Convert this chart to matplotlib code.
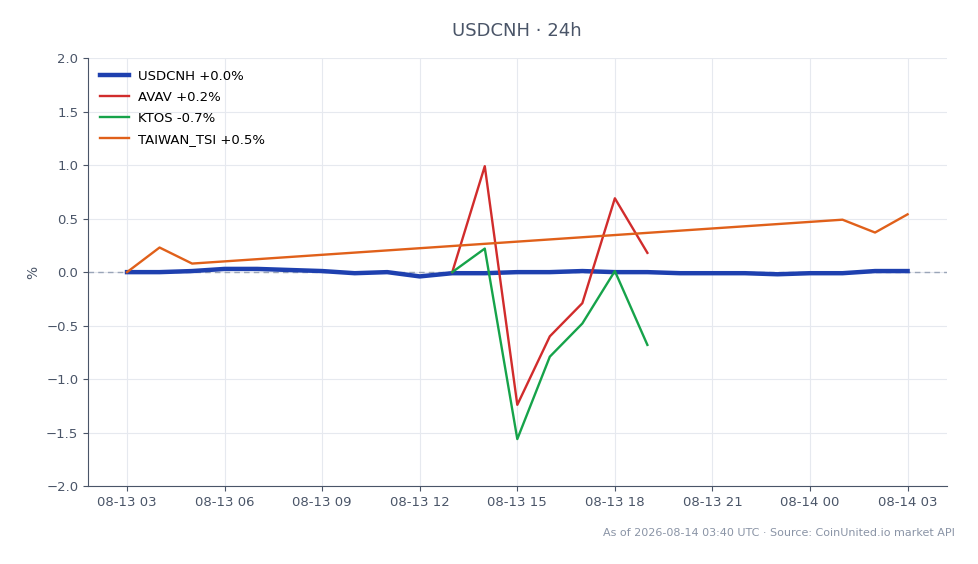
import numpy as np
import pandas as pd
import matplotlib
matplotlib.use("Agg")
import matplotlib.pyplot as plt
import matplotlib.dates as mdates

# ---------- data (hourly, % change vs. start) ----------
usdcnh_times = pd.date_range("2026-08-13 03:00", "2026-08-14 03:00", freq="h")
usdcnh_pct = [
    0.0, 0.0, 0.01, 0.03, 0.03, 0.02,      # 03-08
    0.01, -0.01, 0.0, -0.04, -0.01, -0.01,  # 09-14
    0.0, 0.0, 0.01, 0.0, 0.0, -0.01,        # 15-20
    -0.01, -0.01, -0.02, -0.01, -0.01,      # 21-01
    0.01, 0.01,                             # 02-03
]

avav_times = pd.to_datetime(["2026-08-13 13:00", "2026-08-13 14:00", "2026-08-13 15:00",
                             "2026-08-13 16:00", "2026-08-13 17:00", "2026-08-13 18:00",
                             "2026-08-13 19:00"])
avav_pct = [0.0, 0.99, -1.24, -0.60, -0.29, 0.69, 0.18]

ktos_times = avav_times
ktos_pct = [0.0, 0.22, -1.56, -0.79, -0.48, 0.01, -0.68]

tsi_times = pd.to_datetime(["2026-08-13 03:00", "2026-08-13 04:00", "2026-08-13 05:00",
                            "2026-08-14 01:00", "2026-08-14 02:00", "2026-08-14 03:00"])
tsi_pct = [0.0, 0.23, 0.08, 0.49, 0.37, 0.54]

series = [
    ("USDCNH +0.0%", usdcnh_times, usdcnh_pct, "#1e40af", 3.2),
    ("AVAV +0.2%", avav_times, avav_pct, "#d12c2c", 1.7),
    ("KTOS -0.7%", ktos_times, ktos_pct, "#16a34a", 1.7),
    ("TAIWAN_TSI +0.5%", tsi_times, tsi_pct, "#e0601a", 1.7),
]

TEXT = "#4a5568"

fig = plt.figure(figsize=(9.79, 5.64), dpi=100)
ax = fig.add_axes([0.0899, 0.138, 0.877, 0.759])

ax.axhline(0, color="#9aa5b8", lw=1.0, ls=(0, (4, 3)), zorder=1)
for label, t, v, c, lw in series:
    ax.plot(t, v, color=c, lw=lw, label=label, zorder=3)

ax.set_ylim(-2.0, 2.0)
ax.set_yticks(np.arange(-2.0, 2.01, 0.5))
ax.yaxis.set_major_formatter(plt.FuncFormatter(lambda y, _: f"{y:.1f}".replace("-", "\u2212")))
ax.xaxis.set_major_locator(mdates.HourLocator(byhour=range(0, 24, 3)))
ax.xaxis.set_major_formatter(mdates.DateFormatter("%m-%d %H"))
ax.set_ylabel("%", color=TEXT, fontsize=10)

ax.grid(True, color="#e6e9ef", lw=0.8)
ax.set_axisbelow(True)
for s in ("top", "right"):
    ax.spines[s].set_visible(False)
for s in ("left", "bottom"):
    ax.spines[s].set_color(TEXT)
ax.tick_params(colors=TEXT, labelsize=9.5)

ax.set_title("USDCNH \u00b7 24h", color=TEXT, fontsize=13, pad=16)
ax.legend(loc="upper left", frameon=False, fontsize=9.5, handlelength=2.2,
          labelspacing=0.6, handletextpad=0.7)

fig.text(0.975, 0.055, "As of 2026-08-14 03:40 UTC \u00b7 Source: CoinUnited.io market API",
         ha="right", va="center", fontsize=8, color="#8a94a6")

fig.savefig("out.png", dpi=100)
